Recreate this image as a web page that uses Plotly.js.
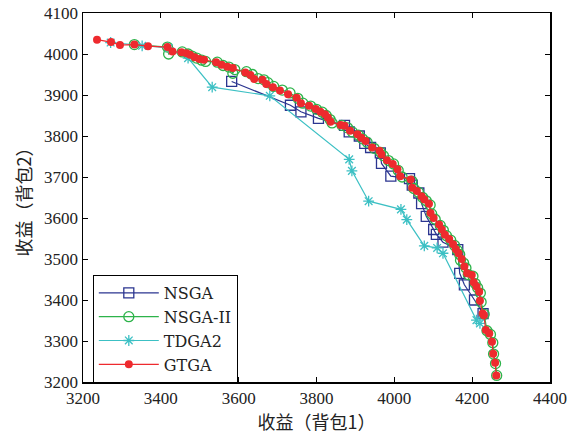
<!DOCTYPE html>
<html>
<head>
<meta charset="utf-8">
<script src="https://cdn.plot.ly/plotly-3.0.1.min.js"></script>
<style>html,body{margin:0;padding:0;background:#fff;}#chart{width:585px;height:435px;}</style>
</head>
<body>
<div id="chart"></div>
<script>
// NSGA (blue squares)
const nsgaX = [3582, 3733, 3760, 3805, 3872, 3884, 3910, 3924, 3939, 3964, 3967, 3991, 4039, 4046, 4063, 4070, 4082, 4101, 4108, 4125, 4163, 4168, 4180, 4206, 4228];
const nsgaY = [3933, 3875, 3859, 3843, 3826, 3810, 3800, 3782, 3772, 3759, 3733, 3702, 3696, 3680, 3661, 3635, 3604, 3572, 3560, 3541, 3523, 3465, 3437, 3400, 3367];

// NSGA-II (green circles)
const nsga2X = [3332, 3417, 3420, 3455, 3470, 3480, 3492, 3505, 3515, 3545, 3560, 3575, 3585, 3590, 3620, 3635, 3650, 3665, 3675, 3690, 3712, 3732, 3752, 3765, 3785, 3800, 3815, 3825, 3835, 3840, 3865, 3880, 3892, 3908, 3918, 3930, 3948, 3965, 3972, 3985, 3998, 4010, 4020, 4045, 4050, 4062, 4073, 4082, 4092, 4096, 4105, 4118, 4126, 4134, 4145, 4155, 4162, 4168, 4170, 4178, 4184, 4190, 4202, 4208, 4214, 4221, 4223, 4231, 4238, 4247, 4253, 4255, 4260, 4263];
const nsga2Y = [4023, 4017, 4000, 4005, 4000, 3995, 3990, 3985, 3982, 3980, 3972, 3968, 3953, 3962, 3957, 3950, 3940, 3937, 3930, 3921, 3912, 3905, 3892, 3880, 3873, 3865, 3858, 3850, 3840, 3832, 3826, 3820, 3810, 3802, 3793, 3785, 3770, 3760, 3752, 3740, 3732, 3716, 3700, 3690, 3672, 3663, 3650, 3642, 3632, 3610, 3597, 3582, 3570, 3557, 3546, 3533, 3521, 3511, 3497, 3490, 3478, 3462, 3458, 3440, 3430, 3417, 3395, 3365, 3325, 3316, 3296, 3268, 3245, 3216];

// TDGA2 (cyan stars)
const tdgaX = [3271, 3352, 3420, 3470, 3532, 3680, 3884, 3891, 3934, 4017, 4032, 4077, 4110, 4125, 4211, 4220];
const tdgaY = [4028, 4020, 4015, 3990, 3919, 3898, 3743, 3715, 3641, 3621, 3596, 3532, 3527, 3514, 3351, 3343];

// GTGA (red dots)
const gtgaX = [3236, 3272, 3295, 3332, 3367, 3417, 3430, 3453, 3466, 3475, 3487, 3499, 3511, 3542, 3556, 3571, 3585, 3617, 3630, 3640, 3661, 3671, 3688, 3706, 3727, 3749, 3760, 3781, 3798, 3810, 3822, 3829, 3836, 3862, 3872, 3886, 3905, 3915, 3926, 3943, 3962, 3967, 3981, 3996, 4008, 4015, 4042, 4046, 4058, 4070, 4077, 4089, 4093, 4101, 4115, 4122, 4130, 4141, 4151, 4158, 4165, 4173, 4180, 4187, 4199, 4204, 4211, 4218, 4220, 4227, 4230, 4235, 4244, 4251, 4254, 4259, 4262];
const gtgaY = [4035, 4029, 4022, 4023, 4019, 4017, 4006, 4004, 4002, 3998, 3992, 3988, 3986, 3980, 3974, 3969, 3966, 3955, 3949, 3939, 3937, 3927, 3919, 3911, 3902, 3893, 3880, 3874, 3866, 3859, 3853, 3845, 3835, 3827, 3825, 3813, 3804, 3796, 3788, 3772, 3764, 3755, 3741, 3732, 3719, 3702, 3694, 3674, 3666, 3653, 3645, 3635, 3612, 3600, 3584, 3572, 3559, 3549, 3536, 3524, 3514, 3500, 3482, 3465, 3461, 3443, 3433, 3420, 3398, 3367, 3363, 3327, 3318, 3298, 3269, 3247, 3216];

const serif = 'Liberation Serif, DejaVu Serif, serif';
const cjk = 'Noto Sans CJK SC, Liberation Serif, serif';

const traces = [
  {x: nsgaX, y: nsgaY, name: 'NSGA', mode: 'lines+markers',
   line: {color: '#2b3590', width: 1.2},
   marker: {symbol: 'square-open', size: 10, color: '#2b3590', line: {width: 1.3}}},
  {x: nsga2X, y: nsga2Y, name: 'NSGA-II', mode: 'lines+markers',
   line: {color: '#2db34a', width: 1.2},
   marker: {symbol: 'circle-open', size: 10, color: '#2db34a', line: {width: 1.3}}},
  {x: tdgaX, y: tdgaY, name: 'TDGA2', mode: 'lines+markers',
   line: {color: '#3cc0c4', width: 1.2},
   marker: {symbol: 'asterisk-open', size: 9, color: '#3cc0c4', line: {width: 1.3, color: '#3cc0c4'}}},
  {x: gtgaX, y: gtgaY, name: 'GTGA', mode: 'lines+markers',
   line: {color: '#ee2a2e', width: 1.2},
   marker: {symbol: 'circle', size: 8, color: '#ee2a2e'}}
];

const axisCommon = {
  showgrid: false, zeroline: false, showline: true, linecolor: '#000', linewidth: 1.5,
  mirror: 'ticks', ticks: 'inside', ticklen: 5, tickcolor: '#000', tickwidth: 1,
  tickfont: {family: serif, size: 17, color: '#222'}
};

const layout = {
  width: 585, height: 435,
  margin: {l: 83, r: 35, t: 13, b: 53},
  paper_bgcolor: '#fff', plot_bgcolor: '#fff',
  showlegend: true,
  xaxis: Object.assign({}, axisCommon, {
    range: [3200, 4400], dtick: 200, tick0: 3200,
    title: {text: '收益（背包1）', font: {family: cjk, size: 18, color: '#222'}, standoff: 8}
  }),
  yaxis: Object.assign({}, axisCommon, {
    range: [3200, 4100], dtick: 100, tick0: 3200,
    title: {text: '收益（背包2）', font: {family: cjk, size: 18, color: '#222'}, standoff: 8}
  }),
  legend: {
    x: 0.021, y: 0.29, xanchor: 'left', yanchor: 'top',
    bgcolor: '#fff', bordercolor: '#000', borderwidth: 1,
    font: {family: 'DejaVu Serif, Liberation Serif, serif', size: 16, color: '#222'},
    itemwidth: 60, tracegroupgap: 0
  }
};

Plotly.newPlot('chart', traces, layout, {displayModeBar: false, staticPlot: true});
</script>
</body>
</html>
